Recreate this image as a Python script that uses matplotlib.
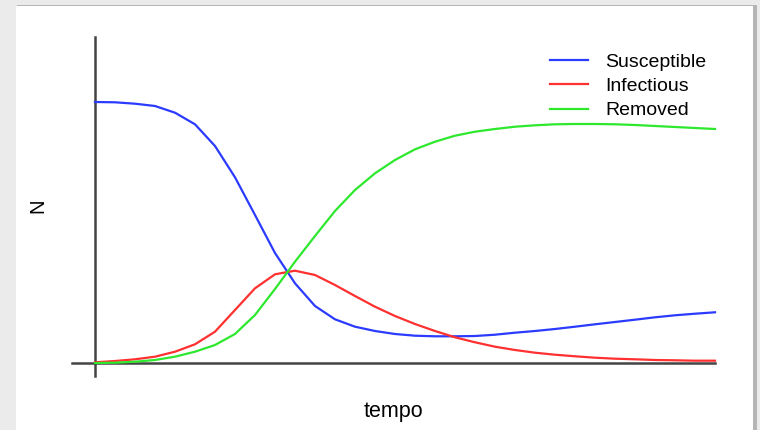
import matplotlib
matplotlib.use("Agg")
import matplotlib.pyplot as plt
from matplotlib.patches import Rectangle

plt.rcParams['font.family'] = ['Liberation Sans', 'DejaVu Sans']

# time steps
tempo = list(range(32))

susceptible = [261, 260.7, 259.3, 257, 250.3, 238.7, 217, 185.7, 148, 110,
               79.7, 57, 43.7, 36.3, 32, 29, 27.3, 26.7, 26.7, 27,
               28.3, 30.3, 32, 34, 36.3, 38.7, 41, 43.3, 45.7, 47.7,
               49.3, 50.7]
infectious = [0.7, 2, 3.7, 6.3, 11.3, 18.7, 31.3, 53, 74.7, 88.7,
              92.3, 88, 78, 67, 56.3, 47, 39, 32, 25.7, 20.7,
              16.3, 13, 10.3, 8.3, 6.7, 5.3, 4.3, 3.7, 3, 2.7,
              2.3, 2.3]
removed = [0, 0.3, 1.3, 3, 6.3, 11.3, 18, 29, 48, 74,
           101.3, 127, 152, 173, 189.7, 203, 213.7, 221.3, 227.3, 231.3,
           234, 236.3, 237.7, 238.7, 239, 239, 238.7, 238, 237, 236,
           235, 234]

series_labels = ["Susceptible", "Infectious", "Removed"]
series_colors = ["#2b3bff", "#ff3030", "#2ee82e"]

W, H = 760, 430
fig = plt.figure(figsize=(W / 100, H / 100), dpi=100)
fig.patch.set_facecolor("#ebebeb")

# panel shadow and white panel
fig.patches.append(Rectangle((17 / W, 0), 740 / W, 1 - 5 / H, transform=fig.transFigure,
                             facecolor="#b5b5b5", edgecolor="none", zorder=-2))
fig.patches.append(Rectangle((16 / W, 0), 737 / W, 1 - 6 / H, transform=fig.transFigure,
                             facecolor="white", edgecolor="none", zorder=-1))

# axes: left=60px, right=740px, top=30px, bottom=385px
ax = fig.add_axes([60 / W, 45 / H, 680 / W, 355 / H])
ax.set_zorder(2)
ax.set_facecolor("none")
ax.set_xlim(-1.75, 32.25)
ax.set_ylim(-22, 333)

series = [susceptible, infectious, removed]
for vals, lab, col in zip(series, series_labels, series_colors):
    ax.plot(tempo, vals, color=col, lw=1.6, label=lab, solid_joinstyle="round")

for s in ["top", "right"]:
    ax.spines[s].set_visible(False)
ax.spines["left"].set_position(("data", 0))
ax.spines["bottom"].set_position(("data", 0))
ax.spines["left"].set_bounds(-13, 326)
ax.spines["bottom"].set_bounds(-1.15, 31)
for s in ["left", "bottom"]:
    ax.spines[s].set_color("#444444")
    ax.spines[s].set_linewidth(1.8)
    ax.spines[s].set_zorder(1)
ax.set_xticks([])
ax.set_yticks([])

fs = 14
leg = ax.legend(loc="upper left", bbox_to_anchor=(550 / W, 1 - 53 / H),
                bbox_transform=fig.transFigure, frameon=False, fontsize=fs,
                handlelength=1.96, handletextpad=0.88, labelspacing=0.35,
                borderpad=0, borderaxespad=0)
for line in leg.get_lines():
    line.set_linewidth(1.6)

fig.text(393.5 / W, 1 - 412 / H, "tempo", ha="center", va="center", fontsize=15.5)
fig.text(37.5 / W, 1 - 206 / H, "N", ha="center", va="center", rotation=90, fontsize=14.5)

fig.savefig("out.png", dpi=100, facecolor=fig.get_facecolor())
